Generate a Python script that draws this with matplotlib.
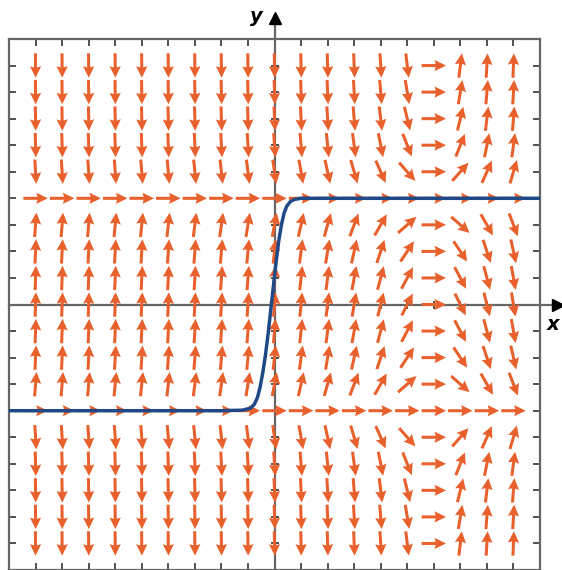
import numpy as np
import matplotlib
matplotlib.use('Agg')
import matplotlib.pyplot as plt

# slope field y' = (x - x_turn) * (y^2 - eq^2)
x_turn = 3.0
eq = 2.0
grid_x = np.arange(-4.5, 4.51, 0.5)
grid_y = np.arange(-4.5, 4.51, 0.5)

# solution curve
curve_x = [-5.0, -1.0, -0.6, -0.45, -0.38, -0.32, -0.27, -0.22, -0.17, -0.12, -0.07,
           -0.02, 0.03, 0.08, 0.13, 0.18, 0.23, 0.3, 0.38, 0.5, 0.7, 1.0, 5.0]
curve_y = [-2.0, -2.0, -1.99, -1.95, -1.88, -1.75, -1.55, -1.28, -0.95, -0.55, -0.1,
           0.35, 0.8, 1.2, 1.5, 1.72, 1.85, 1.94, 1.98, 2.0, 2.0, 2.0, 2.0]

arrow_color = '#e8602c'
curve_color = '#1f4a87'
axis_color = '#666666'

fig = plt.figure(figsize=(5.62, 5.70), dpi=100)
ax = fig.add_axes([9/562, 0.0, 531/562, 531/570])

X, Y = np.meshgrid(grid_x, grid_y)
S = (X - x_turn) * (Y**2 - eq**2)
L = 0.46
norm = np.sqrt(1 + S**2)
U = L / norm
V = L * S / norm
ax.quiver(X, Y, U, V, color=arrow_color, angles='xy', scale_units='xy', scale=1,
          pivot='mid', width=0.0057, headwidth=3.7, headlength=3.8,
          headaxislength=3.4, zorder=3)

ax.plot(curve_x, curve_y, color=curve_color, lw=2.5, zorder=4,
        solid_capstyle='round', solid_joinstyle='round')

# center axes with arrows
ax.plot([-5, 5.3], [0, 0], color=axis_color, lw=1.6, clip_on=False, zorder=2)
ax.plot([0, 0], [-5, 5.35], color=axis_color, lw=1.6, clip_on=False, zorder=2)
ax.plot([5.33], [0], marker='>', color='black', ms=8, clip_on=False, zorder=5)
ax.plot([0], [5.4], marker='^', color='black', ms=8, clip_on=False, zorder=5)
tk = grid_x[grid_x != 0]
ax.plot(tk, np.zeros_like(tk), ls='none', marker='|', color='#333333', ms=6, mew=1.2, zorder=2)
ax.plot(np.zeros_like(tk), tk, ls='none', marker='_', color='#333333', ms=6, mew=1.2, zorder=2)

ax.text(-0.22, 5.42, 'y', fontsize=14, fontweight='bold', style='italic',
        ha='right', va='center')
ax.text(5.12, -0.38, 'x', fontsize=14, fontweight='bold', style='italic',
        ha='left', va='center')

ax.set_xlim(-5, 5)
ax.set_ylim(-5, 5)
ax.set_xticks(np.arange(-4.5, 4.51, 0.5))
ax.set_yticks(np.arange(-4.5, 4.51, 0.5))
ax.set_xticklabels([])
ax.set_yticklabels([])
ax.tick_params(direction='in', length=5, width=1.2, color='#333333',
               top=True, right=True)
for sp in ax.spines.values():
    sp.set_color(axis_color)
    sp.set_linewidth(1.6)

fig.savefig('out.png', dpi=100)
